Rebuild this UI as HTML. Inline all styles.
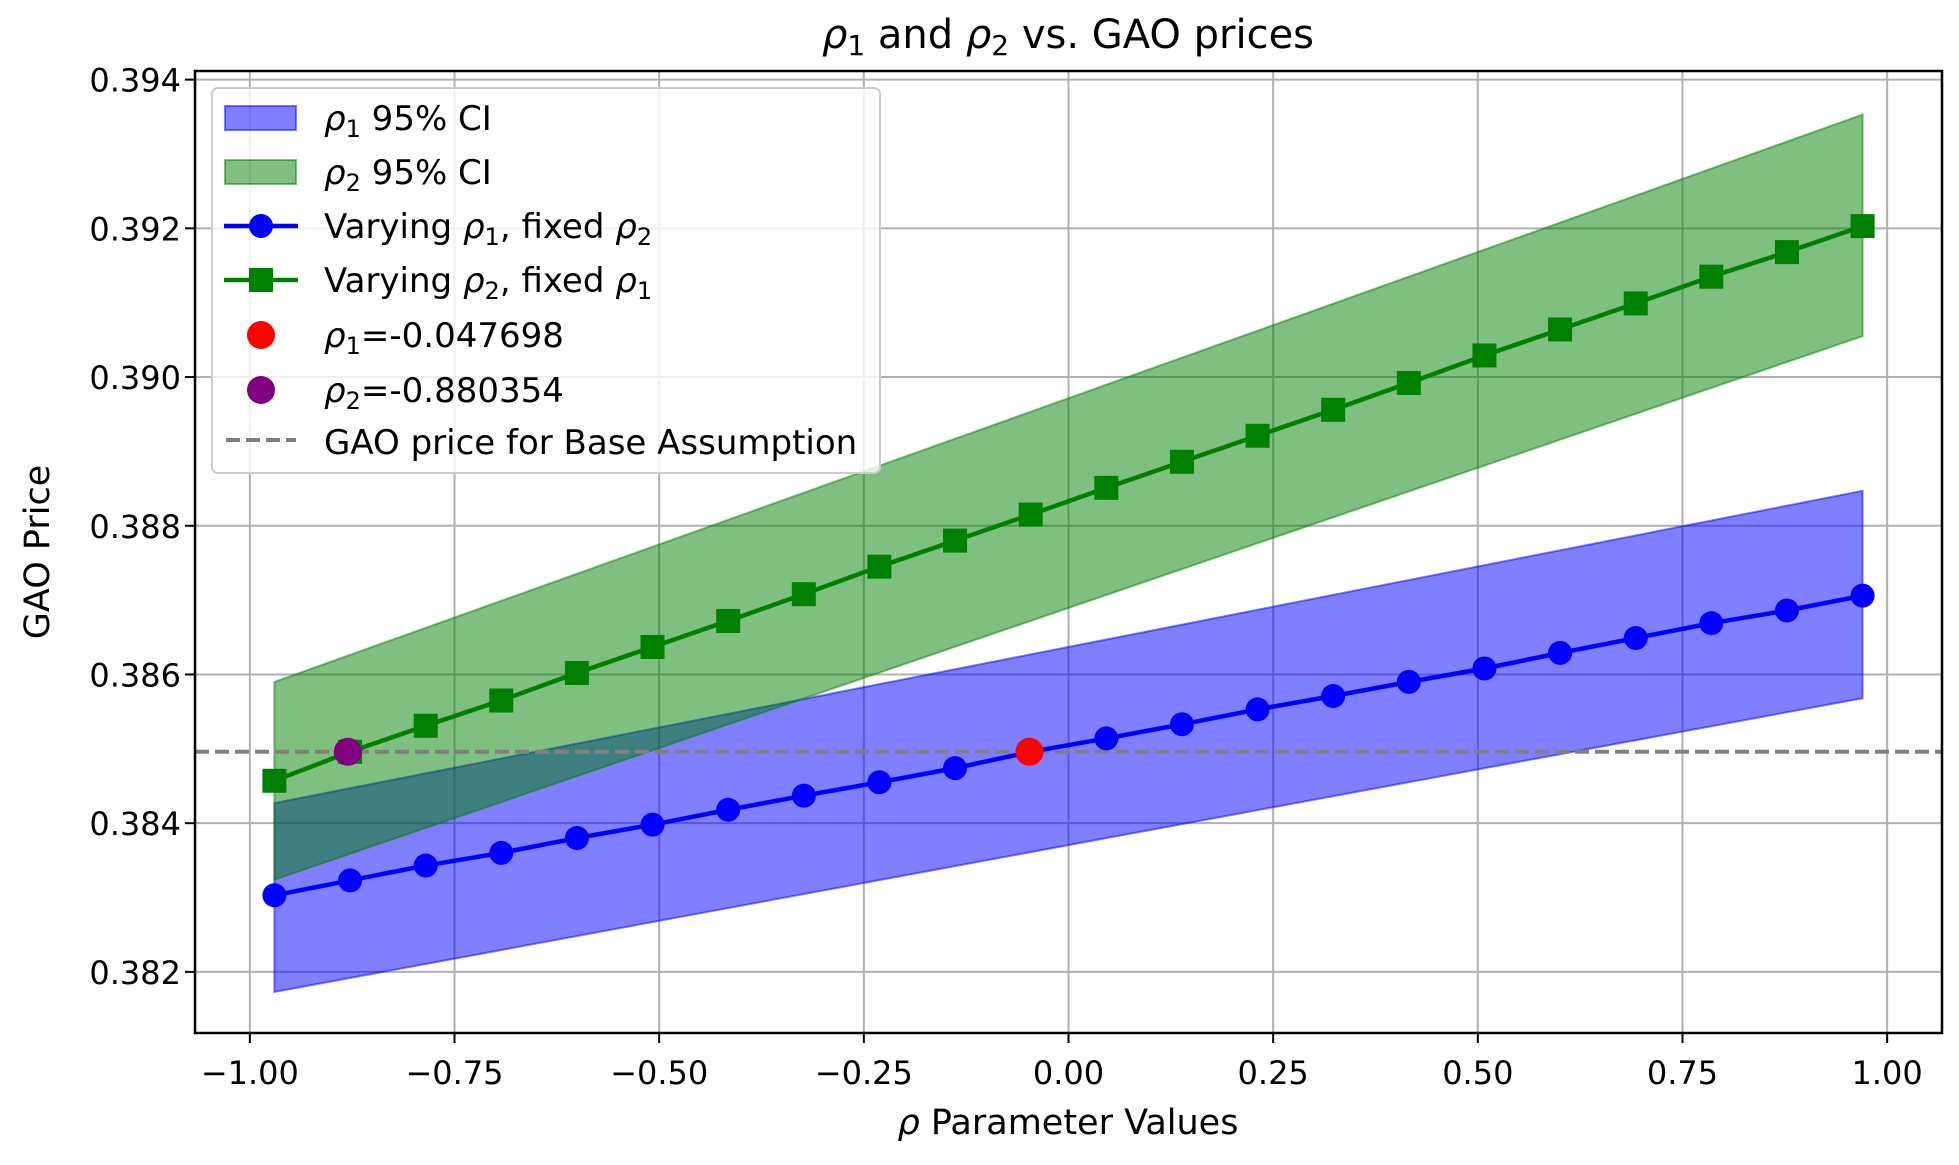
<!DOCTYPE html>
<html><head><meta charset="utf-8"><style>
html,body{margin:0;padding:0;background:#fff;}
svg text{font-family:"DejaVu Sans","Liberation Sans",sans-serif;fill:#000;}
</style></head><body>
<svg id="chart" width="1959" height="1160" xmlns="http://www.w3.org/2000/svg">
<g id="grid"></g>
<g id="marks"></g>
<g id="axes"></g>
<text x="1068" y="48" font-size="40" text-anchor="middle"><tspan font-style="italic">ρ</tspan><tspan font-size="28" dy="7">1</tspan><tspan dy="-7"> and </tspan><tspan font-style="italic">ρ</tspan><tspan font-size="28" dy="7">2</tspan><tspan dy="-7"> vs. GAO prices</tspan></text>
<text x="1068" y="1134" font-size="35" text-anchor="middle"><tspan font-style="italic">ρ</tspan> Parameter Values</text>
<text transform="translate(49,552) rotate(-90)" font-size="35" text-anchor="middle">GAO Price</text>
<g id="legend"></g>
</svg>
<script>
const xValues = [-0.97,-0.8776,-0.7852,-0.6929,-0.6005,-0.5081,-0.4157,-0.3233,-0.2310,-0.1386,-0.0462,0.0462,0.1386,0.2310,0.3233,0.4157,0.5081,0.6005,0.6929,0.7852,0.8776,0.97];
const rho1Prices = [0.38303,0.38323,0.38343,0.38360,0.38380,0.38398,0.38418,0.38437,0.38455,0.38474,0.38496,0.38514,0.38533,0.38553,0.38571,0.38590,0.38608,0.38629,0.38649,0.38669,0.38686,0.38706];
const rho2Prices = [0.38457,0.38496,0.38531,0.38565,0.38602,0.38637,0.38672,0.38708,0.38745,0.38780,0.38815,0.38851,0.38886,0.38921,0.38956,0.38992,0.39029,0.39064,0.39099,0.39135,0.39168,0.39203];
const ci1Upper = [0.38427,0.38847];
const ci1Lower = [0.38173,0.38568];
const ci2Upper = [0.38590,0.39353];
const ci2Lower = [0.38324,0.39055];
const ciX = [-0.97,0.97];
const basePrice = 0.38496;
const rho1Opt = [-0.047698, 0.38496];
const rho2Opt = [-0.880354, 0.38496];
const xTicks = [-1.0,-0.75,-0.5,-0.25,0,0.25,0.5,0.75,1.0];
const xTickLabels = ["−1.00","−0.75","−0.50","−0.25","0.00","0.25","0.50","0.75","1.00"];
const yTicks = [0.382,0.384,0.386,0.388,0.390,0.392,0.394];
const yTickLabels = ["0.382","0.384","0.386","0.388","0.390","0.392","0.394"];

const L=195,R=1942,T=71,B=1033;
const xMin=-1.067,xMax=1.067,yMin=0.381178,yMax=0.394116;
const sx=v=>L+(v-xMin)/(xMax-xMin)*(R-L);
const sy=v=>B-(v-yMin)/(yMax-yMin)*(B-T);
const NS="http://www.w3.org/2000/svg";
function mk(parent,tag,attrs){const e=document.createElementNS(NS,tag);for(const k in attrs)e.setAttribute(k,attrs[k]);parent.appendChild(e);return e;}
const grid=document.getElementById('grid'),marks=document.getElementById('marks'),axes=document.getElementById('axes'),legend=document.getElementById('legend');

xTicks.forEach((t,i)=>{
  const g=mk(grid,'line',{x1:sx(t),x2:sx(t),y1:T,y2:B,stroke:'#b0b0b0','stroke-width':2});
  
  
  const tk=mk(axes,'line',{x1:sx(t),x2:sx(t),y1:B,y2:B+10,stroke:'#000','stroke-width':2});
  
  
  const tx=mk(axes,'text',{x:sx(t),y:B+51,'font-size':32,'text-anchor':'middle'});
  tx.textContent=xTickLabels[i];
  
  
});
yTicks.forEach((t,i)=>{
  const g=mk(grid,'line',{x1:L,x2:R,y1:sy(t),y2:sy(t),stroke:'#b0b0b0','stroke-width':2});
  
  
  const tk=mk(axes,'line',{x1:L-10,x2:L,y1:sy(t),y2:sy(t),stroke:'#000','stroke-width':2});
  
  
  const tx=mk(axes,'text',{x:L-14,y:sy(t)+12,'font-size':32,'text-anchor':'end'});
  tx.textContent=yTickLabels[i];
  
  
});
const frame=mk(axes,'rect',{x:L,y:T,width:R-L,height:B-T,fill:'none',stroke:'#000','stroke-width':2.5});



function band(up,lo,fill,stroke,name){
  const pts=[[ciX[0],up[0]],[ciX[1],up[1]],[ciX[1],lo[1]],[ciX[0],lo[0]]].map(p=>sx(p[0])+','+sy(p[1])).join(' ');
  const p=mk(marks,'polygon',{points:pts,fill:fill,'fill-opacity':0.5,stroke:stroke,'stroke-opacity':0.5,'stroke-width':2});
  
  
}
band(ci1Upper,ci1Lower,'#0000ff','#0000ff','rho1-ci-band');
band(ci2Upper,ci2Lower,'#008000','#008000','rho2-ci-band');

const base=mk(marks,'line',{x1:L,x2:R,y1:sy(basePrice),y2:sy(basePrice),stroke:'#808080','stroke-width':4,'stroke-dasharray':'14 6'});



function series(vals,color,shape,name){
  const pl=mk(marks,'polyline',{points:xValues.map((x,i)=>sx(x)+','+sy(vals[i])).join(' '),fill:'none',stroke:color,'stroke-width':4.5});
  
  
  xValues.forEach((x,i)=>{
    let m;
    if(shape==='circle') m=mk(marks,'circle',{cx:sx(x),cy:sy(vals[i]),r:12,fill:color});
    else m=mk(marks,'rect',{x:sx(x)-12,y:sy(vals[i])-12,width:24,height:24,fill:color});
    
    
  });
}
series(rho1Prices,'#0000ff','circle','rho1-series');
series(rho2Prices,'#008000','square','rho2-series');
const red=mk(marks,'circle',{cx:sx(rho1Opt[0]),cy:sy(rho1Opt[1]),r:14,fill:'#ff0000'});


const pur=mk(marks,'circle',{cx:sx(rho2Opt[0]),cy:sy(rho2Opt[1]),r:14,fill:'#800080'});



// legend
const lb=mk(legend,'rect',{x:212,y:88,width:668,height:385,rx:6,fill:'#fff','fill-opacity':0.8,stroke:'#cccccc','stroke-width':2});


const rows=[118,172,226,280,335,390,442];
const labels=[
 '<tspan font-style="italic">ρ</tspan><tspan font-size="24" dy="7">1</tspan><tspan dy="-7"> 95% CI</tspan>',
 '<tspan font-style="italic">ρ</tspan><tspan font-size="24" dy="7">2</tspan><tspan dy="-7"> 95% CI</tspan>',
 'Varying <tspan font-style="italic">ρ</tspan><tspan font-size="24" dy="7">1</tspan><tspan dy="-7">, fixed </tspan><tspan font-style="italic">ρ</tspan><tspan font-size="24" dy="7">2</tspan>',
 'Varying <tspan font-style="italic">ρ</tspan><tspan font-size="24" dy="7">2</tspan><tspan dy="-7">, fixed </tspan><tspan font-style="italic">ρ</tspan><tspan font-size="24" dy="7">1</tspan>',
 '<tspan font-style="italic">ρ</tspan><tspan font-size="24" dy="7">1</tspan><tspan dy="-7">=-0.047698</tspan>',
 '<tspan font-style="italic">ρ</tspan><tspan font-size="24" dy="7">2</tspan><tspan dy="-7">=-0.880354</tspan>',
 'GAO price for Base Assumption'];
rows.forEach((y,i)=>{
  const t=mk(legend,'text',{x:324,y:y+12,'font-size':34});
  t.innerHTML=labels[i];
  
  
});
let h;
h=mk(legend,'rect',{x:225,y:106,width:71,height:24,fill:'#0000ff','fill-opacity':0.5,stroke:'#0000ff','stroke-opacity':0.5,'stroke-width':2});

h=mk(legend,'rect',{x:225,y:160,width:71,height:24,fill:'#008000','fill-opacity':0.5,stroke:'#008000','stroke-opacity':0.5,'stroke-width':2});

h=mk(legend,'line',{x1:224,x2:298,y1:226,y2:226,stroke:'#0000ff','stroke-width':4.5});

h=mk(legend,'circle',{cx:261,cy:226,r:12,fill:'#0000ff'});

h=mk(legend,'line',{x1:224,x2:298,y1:280,y2:280,stroke:'#008000','stroke-width':4.5});

h=mk(legend,'rect',{x:249,y:268,width:24,height:24,fill:'#008000'});

h=mk(legend,'circle',{cx:261,cy:335,r:14,fill:'#ff0000'});

h=mk(legend,'circle',{cx:261,cy:390,r:14,fill:'#800080'});

h=mk(legend,'line',{x1:226,x2:296,y1:440,y2:440,stroke:'#808080','stroke-width':4,'stroke-dasharray':'14 6'});

</script>
</body></html>
